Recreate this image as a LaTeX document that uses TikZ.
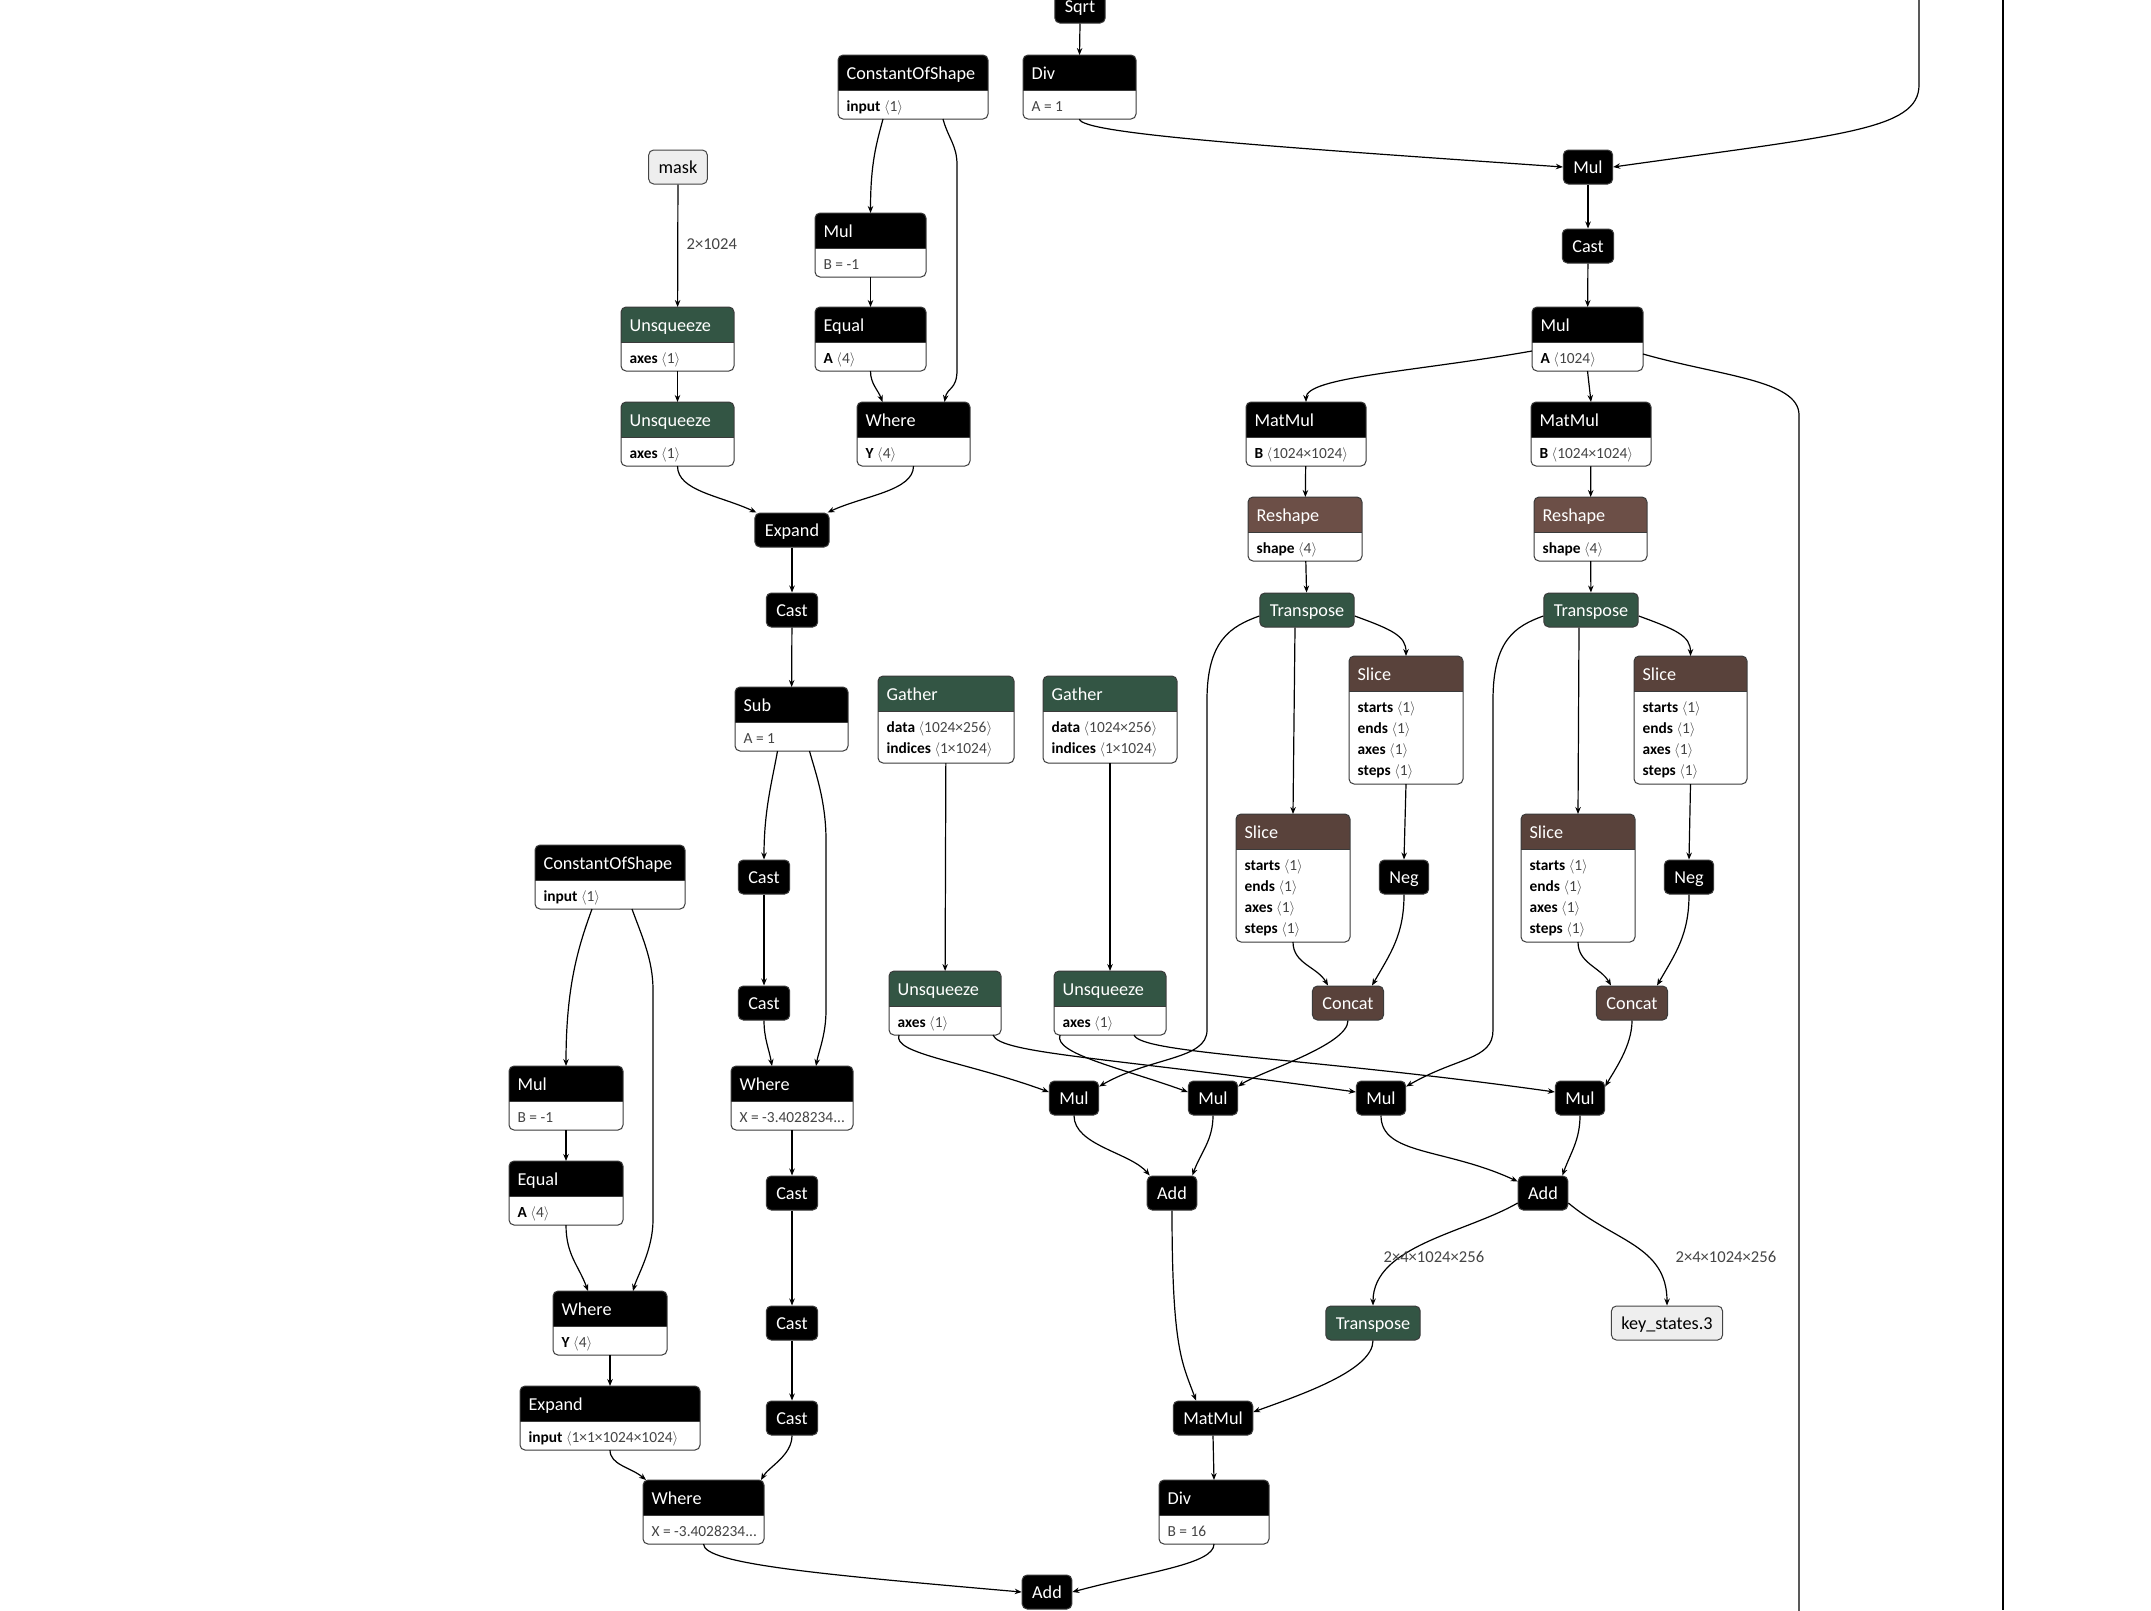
\documentclass[tikz,border=0pt]{standalone}
\usepackage{fontspec}
\setmainfont{Carlito}
\usetikzlibrary{arrows.meta}
\definecolor{nxgreen}{HTML}{335544}
\definecolor{nxtensor}{HTML}{59423B}
\definecolor{nxshape}{HTML}{6C4F47}
\definecolor{nxborder}{HTML}{3A3A3A}
\definecolor{nxinput}{HTML}{EEEEEE}
\definecolor{nxgray}{HTML}{444444}

% attribute with a tensor shape, and a plain attribute
\newcommand{\kv}[2]{\textbf{#1}~{\color{nxgray}$\langle$#2$\rangle$}}
\newcommand{\pv}[1]{{\color{nxgray}#1}}
\newcommand{\sliceattrs}{\kv{starts}{1}\\ \kv{ends}{1}\\ \kv{axes}{1}\\ \kv{steps}{1}}
% operator box with header: name, top-left, width, height, header colour, title, attributes
\newcommand{\opnode}[7]{%
  \node[opbox, minimum width=#3pt, minimum height=#4pt] (#1) at (#2) {};
  \begin{scope}
    \clip[rounded corners=5pt] (#1.north west) rectangle (#1.south east);
    \fill[#5] (#1.north west) rectangle ([yshift=-35pt]#1.north east);
  \end{scope}
  \draw[draw=nxborder, line width=1pt, rounded corners=5pt] (#1.north west) rectangle (#1.south east);
  \draw[draw=nxborder, line width=1pt] ([yshift=-35pt]#1.north west) -- ([yshift=-35pt]#1.north east);
  \node[optitle] (#1-t) at ([xshift=8pt, yshift=-24.5pt]#1.north west) {#6};
  \node[opattr] (#1-a) at ([xshift=8pt, yshift=-43.5pt]#1.north west) {\rule{0pt}{12pt}#7};
}

\begin{document}
\begin{tikzpicture}[x=1pt, y=1pt, line width=1.2pt, >={Stealth[length=7pt, width=5.5pt]},
    op/.style={rounded corners=5pt, draw=nxborder, line width=1pt, fill=black, text=white,
      font=\fontsize{18.2}{21}\selectfont, minimum height=34pt, inner xsep=10pt, inner ysep=0pt,
      text height=14pt, text depth=1.5pt},
    io/.style={op, fill=nxinput, draw=nxgray, text=black},
    opbox/.style={anchor=north west, fill=white, rounded corners=5pt, inner sep=0pt, outer sep=0pt},
    optitle/.style={anchor=base west, text=white, font=\fontsize{18.2}{21}\selectfont, inner sep=0pt},
    opattr/.style={anchor=north west, align=left, font=\fontsize{15.4}{21}\selectfont, inner sep=0pt},
    edgelabel/.style={anchor=west, font=\fontsize{16.6}{18}\selectfont, text=nxgray, inner sep=0pt}]
  \path[use as bounding box, fill=white] (0,0) rectangle (2151,-1610);

  % scaling branch (top right)
  \node[op] (sqrt) at (1080,-6) {Sqrt};
  \opnode{divt}{1023,-55}{113}{64}{black}{Div}{\pv{A = 1}}
  \node[op] (multr) at (1588,-167) {Mul};
  \node[op] (casttr) at (1588,-246) {Cast};
  \opnode{mula}{1532,-307}{111}{64}{black}{Mul}{\kv{A}{1024}}
  \coordinate (topin) at (1919,10);
  \coordinate (mulaout) at (1799,-1615);

  % projections
  \opnode{matmula}{1246,-402}{120}{64}{black}{MatMul}{\kv{B}{1024×1024}}
  \opnode{matmulb}{1531,-402}{120}{64}{black}{MatMul}{\kv{B}{1024×1024}}
  \opnode{reshapea}{1248,-497}{114}{64}{nxshape}{Reshape}{\kv{shape}{4}}
  \opnode{reshapeb}{1534,-497}{113}{64}{nxshape}{Reshape}{\kv{shape}{4}}
  \node[op, fill=nxgreen] (transa) at (1307,-610) {Transpose};
  \node[op, fill=nxgreen] (transb) at (1591,-610) {Transpose};
  \opnode{sliceb}{1349,-656}{114}{128}{nxtensor}{Slice}{\sliceattrs}
  \opnode{sliced}{1634,-656}{113}{128}{nxtensor}{Slice}{\sliceattrs}
  \opnode{slicea}{1236,-814}{114}{128}{nxtensor}{Slice}{\sliceattrs}
  \opnode{slicec}{1521,-814}{114}{128}{nxtensor}{Slice}{\sliceattrs}
  \node[op] (nega) at (1404,-877) {Neg};
  \node[op] (negb) at (1689,-877) {Neg};
  \node[op, fill=nxtensor] (concata) at (1348,-1003) {Concat};
  \node[op, fill=nxtensor] (concatb) at (1632,-1003) {Concat};

  % rotary tables
  \opnode{gathera}{878,-676}{136}{87}{nxgreen}{Gather}{\kv{data}{1024×256}\\ \kv{indices}{1×1024}}
  \opnode{gatherb}{1043,-676}{134}{87}{nxgreen}{Gather}{\kv{data}{1024×256}\\ \kv{indices}{1×1024}}
  \opnode{unsqc}{889,-971}{112}{64}{nxgreen}{Unsqueeze}{\kv{axes}{1}}
  \opnode{unsqd}{1054,-971}{112}{64}{nxgreen}{Unsqueeze}{\kv{axes}{1}}
  \node[op] (mulp) at (1074,-1098) {Mul};
  \node[op] (mulq) at (1213,-1098) {Mul};
  \node[op] (mulr) at (1381,-1098) {Mul};
  \node[op] (muls) at (1580,-1098) {Mul};
  \node[op] (adda) at (1172,-1193) {Add};
  \node[op] (addb) at (1543,-1193) {Add};
  \node[op, fill=nxgreen] (transz) at (1373,-1323) {Transpose};
  \node[io] (keys) at (1667,-1323) {key\_states.3};
  \node[op] (matmulz) at (1213,-1418) {MatMul};
  \opnode{divb}{1159,-1480}{110}{64}{black}{Div}{\pv{B = 16}}
  \node[op] (addz) at (1047,-1592) {Add};

  % mask branch (top left)
  \node[io] (mask) at (678,-167) {mask};
  \opnode{cost}{838,-55}{150}{64}{black}{ConstantOfShape}{\kv{input}{1}}
  \opnode{mulb}{815,-213}{111}{64}{black}{Mul}{\pv{B = -1}}
  \opnode{unsqa}{621,-307}{113}{64}{nxgreen}{Unsqueeze}{\kv{axes}{1}}
  \opnode{equal}{815,-307}{111}{64}{black}{Equal}{\kv{A}{4}}
  \opnode{unsqb}{621,-402}{113}{64}{nxgreen}{Unsqueeze}{\kv{axes}{1}}
  \opnode{wheret}{857,-402}{113}{64}{black}{Where}{\kv{Y}{4}}
  \node[op] (expandt) at (792,-530) {Expand};
  \node[op] (casta) at (792,-610) {Cast};
  \opnode{sub}{735,-687}{113}{64}{black}{Sub}{\pv{A = 1}}
  \node[op] (castb) at (764,-877) {Cast};
  \node[op] (castc) at (764,-1003) {Cast};
  \opnode{wherem}{731,-1066}{122}{64}{black}{Where}{\pv{X = -3.4028234...}}
  \node[op] (castd) at (792,-1193) {Cast};
  \node[op] (caste) at (792,-1323) {Cast};
  \node[op] (castf) at (792,-1418) {Cast};

  % causal mask (bottom left)
  \opnode{cosb}{535,-845}{150}{64}{black}{ConstantOfShape}{\kv{input}{1}}
  \opnode{mulm}{509,-1066}{114}{64}{black}{Mul}{\pv{B = -1}}
  \opnode{equalb}{509,-1161}{114}{64}{black}{Equal}{\kv{A}{4}}
  \opnode{whereb}{553,-1291}{114}{64}{black}{Where}{\kv{Y}{4}}
  \opnode{expandb}{520,-1386}{180}{64}{black}{Expand}{\kv{input}{1×1×1024×1024}}
  \opnode{wherez}{643,-1480}{121}{64}{black}{Where}{\pv{X = -3.4028234...}}

  % edges, top right
  \draw[->] (sqrt.south) -- (divt.north);
  \draw[->] (divt.south) to[out=-90, in=176, out distance=15pt, in distance=280pt] (multr.west);
  \draw[->] (topin) -- (1919,-85) to[out=-90, in=8, out distance=45pt, in distance=230pt] (multr.east);
  \draw[->] (multr) -- (casttr);
  \draw[->] (casttr) -- (mula);
  \draw[->] ([yshift=-12pt]mula.west) to[out=190, in=90, out distance=120pt, in distance=25pt] (matmula.north);
  \draw[->] (mula.south) -- (matmulb.north);
  \draw ([yshift=-15pt]mula.east) to[out=-16, in=90, out distance=80pt, in distance=35pt] (1799,-415) -- (mulaout);
  \draw (2003,0) -- (2003,-1610);

  % edges, rotary
  \draw[->] (matmula) -- (reshapea);
  \draw[->] (reshapea) -- (transa);
  \draw[->] (matmulb) -- (reshapeb);
  \draw[->] (reshapeb) -- (transb);
  \draw[->] ([yshift=-6pt]transa.east) to[out=-20, in=90, out distance=40pt, in distance=20pt] (sliceb.north);
  \draw[->] ([xshift=-12pt]transa.south) -- (slicea.north);
  \draw[->] ([yshift=-6pt]transa.west) to[out=200, in=90, out distance=30pt, in distance=60pt] (1207,-700)
    -- (1207,-1030) to[out=-90, in=30, out distance=30pt, in distance=60pt] ([yshift=-6pt]mulp.north east);
  \draw[->] (sliceb.south) -- (nega.north);
  \draw[->] (slicea.south) to[out=-90, in=120] ([xshift=-20pt]concata.north);
  \draw[->] (nega.south) to[out=-90, in=60, out distance=40pt] ([xshift=24pt]concata.north);
  \draw[->] (concata.south) to[out=-90, in=35, out distance=25pt, in distance=25pt] ([yshift=-6pt]mulq.north east);
  \draw[->] ([yshift=-6pt]transb.east) to[out=-20, in=90, out distance=40pt, in distance=20pt] (sliced.north);
  \draw[->] ([xshift=-12pt]transb.south) -- (slicec.north);
  \draw[->] ([yshift=-6pt]transb.west) to[out=200, in=90, out distance=30pt, in distance=60pt] (1493,-700)
    -- (1493,-1030) to[out=-90, in=30, out distance=30pt, in distance=60pt] ([yshift=-6pt]mulr.north east);
  \draw[->] (sliced.south) -- (negb.north);
  \draw[->] (slicec.south) to[out=-90, in=120] ([xshift=-21pt]concatb.north);
  \draw[->] (negb.south) to[out=-90, in=60, out distance=40pt] ([xshift=25pt]concatb.north);
  \draw[->] (concatb.south) to[out=-90, in=60, out distance=25pt, in distance=20pt] ([yshift=-6pt]muls.north east);
  \draw[->] (gathera) -- (unsqc);
  \draw[->] (gatherb) -- (unsqd);
  \draw[->] ([xshift=-46pt]unsqc.south) to[out=-110, in=160, out distance=20pt, in distance=90pt] ([yshift=6pt]mulp.west);
  \draw[->] ([xshift=48pt]unsqc.south) to[out=-70, in=172, out distance=20pt, in distance=250pt] ([yshift=6pt]mulr.west);
  \draw[->] ([xshift=-50pt]unsqd.south) to[out=-110, in=160, out distance=20pt, in distance=70pt] ([yshift=6pt]mulq.west);
  \draw[->] ([xshift=24pt]unsqd.south) to[out=-70, in=172, out distance=20pt, in distance=250pt] ([yshift=6pt]muls.west);
  \draw[->] (mulp.south) to[out=-90, in=130, out distance=30pt, in distance=30pt] ([xshift=3pt]adda.north west);
  \draw[->] (mulq.south) to[out=-90, in=70] ([xshift=-5pt]adda.north east);
  \draw[->] (mulr.south) to[out=-90, in=155, out distance=40pt, in distance=80pt] ([yshift=-6pt]addb.north west);
  \draw[->] (muls.south) to[out=-90, in=70] ([xshift=-6pt]addb.north east);
  \draw[->] (adda.south) to[out=-90, in=110, out distance=140pt, in distance=40pt] ([xshift=-17pt]matmulz.north);
  \draw[->] ([yshift=-10pt]addb.west) to[out=-150, in=90, out distance=60pt, in distance=60pt] (transz.north);
  \draw[->] ([yshift=-10pt]addb.east) to[out=-40, in=90, out distance=60pt, in distance=60pt] (keys.north);
  \node[edgelabel] (lbla) at (1383,-1257) {2×4×1024×256};
  \node[edgelabel] (lblb) at (1675,-1257) {2×4×1024×256};
  \draw[->] (transz.south) to[out=-90, in=20, out distance=30pt, in distance=50pt] ([yshift=6pt]matmulz.east);
  \draw[->] (matmulz.south) -- (divb.north);
  \draw[->] (divb.south) to[out=-90, in=15, out distance=20pt, in distance=80pt] (addz.east);
  \draw[->] (wherez.south) to[out=-90, in=175, out distance=20pt, in distance=200pt] (addz.west);

  % edges, mask
  \draw[->] (mask) -- (unsqa);
  \node[edgelabel] (lblmask) at (686,-244) {2×1024};
  \draw[->] (unsqa) -- (unsqb);
  \draw[->] (unsqb.south) to[out=-90, in=155, out distance=25pt, in distance=40pt] ([xshift=2pt]expandt.north west);
  \draw[->] (wheret.south) to[out=-90, in=25, out distance=25pt, in distance=40pt] ([xshift=-2pt]expandt.north east);
  \draw[->] ([xshift=-30pt]cost.south) to[out=-105, in=90, out distance=25pt, in distance=50pt] (mulb.north);
  \draw[->] ([xshift=30pt]cost.south) to[out=-75, in=90, out distance=20pt, in distance=20pt] (957,-165)
    -- (957,-370) to[out=-90, in=80, out distance=20pt, in distance=15pt] ([xshift=31pt]wheret.north);
  \draw[->] (mulb) -- (equal);
  \draw[->] (equal.south) to[out=-90, in=110] ([xshift=-31pt]wheret.north);
  \draw[->] (expandt) -- (casta);
  \draw[->] (casta) -- (sub);
  \draw[->] ([xshift=-14pt]sub.south) to[out=-100, in=90, out distance=30pt, in distance=50pt] (castb.north);
  \draw[->] ([xshift=18pt]sub.south) to[out=-75, in=90, out distance=20pt, in distance=40pt] (826,-840)
    -- (826,-1010) to[out=-90, in=80, out distance=25pt, in distance=15pt] ([xshift=24pt]wherem.north);
  \draw[->] (castb) -- (castc);
  \draw[->] (castc.south) to[out=-90, in=100] ([xshift=-20pt]wherem.north);
  \draw[->] (wherem) -- (castd);
  \draw[->] (castd) -- (caste);
  \draw[->] (caste) -- (castf);
  \draw[->] (castf.south) to[out=-90, in=60, out distance=20pt, in distance=15pt] ([xshift=-3pt]wherez.north east);
  \draw[->] (expandb.south) to[out=-90, in=140, out distance=15pt, in distance=20pt] ([xshift=3pt]wherez.north west);
  \draw[->] (whereb) -- (expandb);
  \draw[->] ([xshift=-18pt]cosb.south) to[out=-110, in=90, out distance=40pt, in distance=80pt] (mulm.north);
  \draw[->] ([xshift=22pt]cosb.south) to[out=-70, in=90, out distance=30pt, in distance=30pt] (653,-990)
    -- (653,-1220) to[out=-90, in=75, out distance=30pt, in distance=15pt] ([xshift=23pt]whereb.north);
  \draw[->] (mulm) -- (equalb);
  \draw[->] (equalb.south) to[out=-90, in=110, out distance=30pt] ([xshift=-22pt]whereb.north);
\end{tikzpicture}
\end{document}
